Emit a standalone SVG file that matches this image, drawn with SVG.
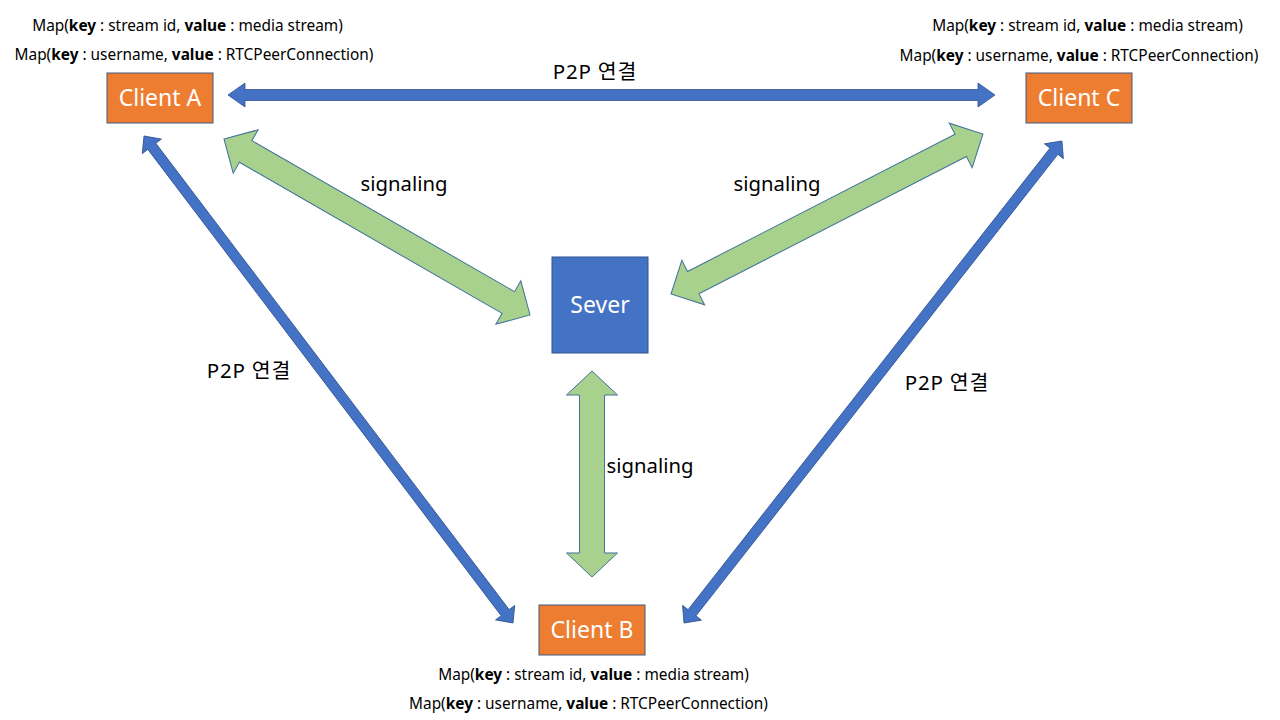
<svg xmlns="http://www.w3.org/2000/svg" width="1280" height="720" viewBox="0 0 1280 720">
<style>
.box{stroke:#41587e;stroke-width:1}
.client{fill:#ED7D31}
.server{fill:#4472C4}
.lbl{font-family:"Noto Sans","Noto Sans CJK KR",sans-serif;fill:#fff;font-size:23px;text-anchor:middle}
.t{font-family:"Noto Sans","Noto Sans CJK KR",sans-serif;fill:#000;text-anchor:middle}
.map{font-size:15.4px}
.cap{font-size:20.3px}
.p2p{font-size:20.5px;letter-spacing:0.8px}
.green{fill:#A9D18E;stroke:#41719C;stroke-width:1}
.blue{fill:#4472C4;stroke:#2F528F;stroke-width:0.8}
</style>
<rect width="1280" height="720" fill="#fff"/>
<g id="connectors">
  <polygon class="blue" transform="translate(228,95)" points="0,0 17,-12 17,-5.5 750,-5.5 750,-12 767,0 750,12 750,5.5 17,5.5 17,12"/>
  <polygon class="blue" transform="translate(144,136) rotate(52.85)" points="0,0 13,-12 13,-5 598,-5 598,-12 611,0 598,12 598,5 13,5 13,12"/>
  <polygon class="blue" transform="translate(684,623) rotate(-51.9)" points="0,0 13,-12 13,-5 599.5,-5 599.5,-12 612.5,0 599.5,12 599.5,5 13,5 13,12"/>
  <polygon class="green" transform="translate(224,139) rotate(29.9)" points="0,0 25,-25 25,-12.5 328,-12.5 328,-25 353,0 328,25 328,12.5 25,12.5 25,25"/>
  <polygon class="green" transform="translate(671,294) rotate(-27.15)" points="0,0 25,-25 25,-12.5 325.6,-12.5 325.6,-25 350.6,0 325.6,25 325.6,12.5 25,12.5 25,25"/>
  <polygon class="green" transform="translate(592,371) rotate(90)" points="0,0 24,-25.5 24,-12.5 182,-12.5 182,-25.5 206,0 182,25.5 182,12.5 24,12.5 24,25.5"/>
  <text class="t p2p" x="595" y="79">P2P 연결</text>
  <text class="t p2p" x="249" y="378">P2P 연결</text>
  <text class="t p2p" x="947" y="390">P2P 연결</text>
  <text class="t cap" x="404" y="191">signaling</text>
  <text class="t cap" x="777" y="191">signaling</text>
  <text class="t cap" x="650" y="473">signaling</text>
</g>
<g id="clientA">
  <rect class="box client" x="107" y="73" width="106" height="50"/>
  <text class="lbl" x="160" y="106">Client A</text>
  <text class="t map" x="187.5" y="31">Map(<tspan font-weight="bold">key</tspan> : stream id, <tspan font-weight="bold">value</tspan> : media stream)</text>
  <text class="t map" x="194" y="60">Map(<tspan font-weight="bold">key</tspan> : username, <tspan font-weight="bold">value</tspan> : RTCPeerConnection)</text>
</g>
<g id="clientC">
  <rect class="box client" x="1026" y="73" width="106" height="50"/>
  <text class="lbl" x="1079" y="106">Client C</text>
  <text class="t map" x="1087.5" y="31">Map(<tspan font-weight="bold">key</tspan> : stream id, <tspan font-weight="bold">value</tspan> : media stream)</text>
  <text class="t map" x="1079" y="61">Map(<tspan font-weight="bold">key</tspan> : username, <tspan font-weight="bold">value</tspan> : RTCPeerConnection)</text>
</g>
<g id="clientB">
  <rect class="box client" x="539" y="605" width="106" height="50"/>
  <text class="lbl" x="592" y="638">Client B</text>
  <text class="t map" x="593.5" y="680">Map(<tspan font-weight="bold">key</tspan> : stream id, <tspan font-weight="bold">value</tspan> : media stream)</text>
  <text class="t map" x="588.5" y="709">Map(<tspan font-weight="bold">key</tspan> : username, <tspan font-weight="bold">value</tspan> : RTCPeerConnection)</text>
</g>
<g id="server">
  <rect class="box server" x="552" y="257" width="96" height="96" style="stroke:#2F528F"/>
  <text class="lbl" x="600" y="313">Sever</text>
</g>
</svg>
